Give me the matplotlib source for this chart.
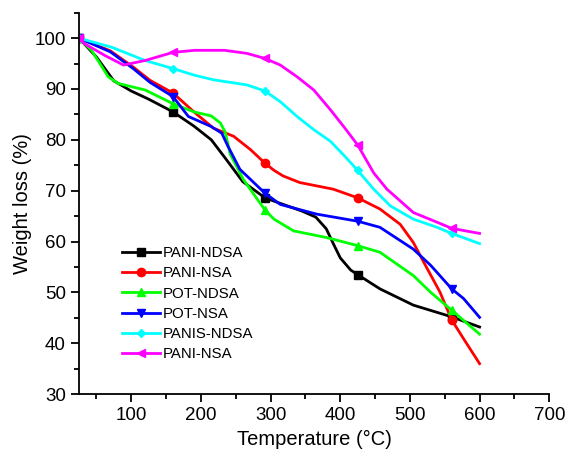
import matplotlib
matplotlib.use('Agg')
import matplotlib.pyplot as plt
from matplotlib.ticker import MultipleLocator

plt.rcParams['font.family'] = ['Liberation Sans', 'DejaVu Sans']

# temperatures (C) and weight (%)
t_pani_ndsa = [25, 50, 75, 100, 125, 160, 190, 215, 235, 260, 292, 310, 345, 365, 380, 390, 400, 415, 425, 457, 505, 560, 600]
w_pani_ndsa = [100, 96.3, 91.6, 89.6, 88.0, 85.5, 82.7, 80.0, 76.4, 71.8, 68.6, 67.7, 66.0, 64.8, 62.5, 59.6, 56.8, 54.4, 53.5, 50.7, 47.5, 45.2, 43.2]

t_pani_nsa = [25, 70, 103, 127, 160, 190, 218, 247, 271, 292, 305, 318, 342, 390, 425, 457, 486, 505, 520, 543, 560, 577, 600]
w_pani_nsa = [100, 97.5, 94.3, 91.7, 89.2, 85.5, 82.3, 80.7, 78.1, 75.4, 74.0, 72.9, 71.6, 70.3, 68.6, 66.4, 63.4, 59.8, 55.9, 50.1, 44.6, 40.9, 36.0]

t_pot_ndsa = [25, 43, 67, 81, 120, 160, 190, 215, 228, 235, 242, 261, 292, 305, 333, 380, 425, 457, 505, 530, 560, 600]
w_pot_ndsa = [100, 97.6, 92.4, 91.1, 89.8, 87.1, 85.5, 84.7, 83.3, 81.5, 77.2, 72.2, 66.2, 64.4, 62.1, 60.8, 59.2, 57.9, 53.3, 50.0, 46.5, 41.8]

t_pot_nsa = [25, 70, 103, 127, 160, 182, 215, 230, 239, 256, 292, 314, 366, 425, 457, 505, 530, 560, 577, 600]
w_pot_nsa = [100, 97.3, 94.0, 91.3, 88.5, 84.6, 82.6, 81.3, 78.7, 74.2, 69.5, 67.3, 65.4, 64.0, 62.8, 58.5, 55.3, 50.7, 48.8, 45.1]

t_panis_ndsa = [25, 72, 120, 160, 191, 218, 266, 292, 314, 338, 362, 386, 405, 425, 448, 472, 505, 539, 560, 600]
w_panis_ndsa = [100, 98.2, 95.6, 94.0, 92.7, 91.8, 90.8, 89.6, 87.5, 84.6, 82.0, 79.7, 77.0, 74.0, 70.3, 67.0, 64.4, 62.8, 61.6, 59.6]

t_pani_nsa2 = [25, 33, 62, 89, 120, 160, 191, 234, 266, 292, 314, 338, 362, 386, 405, 425, 448, 467, 486, 505, 539, 560, 600]
w_pani_nsa2 = [100, 98.9, 96.6, 94.7, 95.6, 97.2, 97.6, 97.6, 97.0, 96.0, 94.7, 92.4, 89.8, 85.9, 82.6, 79.0, 73.5, 70.3, 68.0, 65.7, 63.8, 62.6, 61.6]

mark_t = [25, 160, 292, 425, 560]

series = [
    ('PANI-NDSA', t_pani_ndsa, w_pani_ndsa, 'black', 's'),
    ('PANI-NSA', t_pani_nsa, w_pani_nsa, 'red', 'o'),
    ('POT-NDSA', t_pot_ndsa, w_pot_ndsa, '#00ff00', '^'),
    ('POT-NSA', t_pot_nsa, w_pot_nsa, 'blue', 'v'),
    ('PANIS-NDSA', t_panis_ndsa, w_panis_ndsa, 'cyan', 'D'),
    ('PANI-NSA', t_pani_nsa2, w_pani_nsa2, 'magenta', '<'),
]

fig = plt.figure(figsize=(5.68, 4.61), dpi=100)
ax = fig.add_axes([0.139, 0.145, 0.828, 0.8275])

for name, t, w, c, m in series:
    idx = [t.index(v) for v in mark_t]
    ms = 4.5 if m == 'D' else 6
    ax.plot(t, w, color=c, lw=2.0, marker=m, markevery=idx, ms=ms, label=name)

ax.set_xlim(25, 700)
ax.set_ylim(30, 105)
ax.set_xticks([100, 200, 300, 400, 500, 600, 700])
ax.set_yticks([30, 40, 50, 60, 70, 80, 90, 100])
ax.xaxis.set_minor_locator(MultipleLocator(50))
ax.yaxis.set_minor_locator(MultipleLocator(5))
ax.tick_params(which='major', direction='out', length=6, width=1.3, labelsize=13.5)
ax.tick_params(which='minor', direction='out', length=3.5, width=1.3)
ax.spines['top'].set_visible(False)
ax.spines['right'].set_visible(False)
ax.spines['left'].set_linewidth(1.3)
ax.spines['bottom'].set_linewidth(1.3)

ax.set_xlabel('Temperature (°C)', fontsize=14.5)
ax.set_ylabel('Weight loss (%)', fontsize=14.5, labelpad=2)

ax.legend(loc='upper left', bbox_to_anchor=(122 / 568, 1 - 246 / 461),
          bbox_transform=fig.transFigure, frameon=False, fontsize=10.8,
          borderpad=0, borderaxespad=0, handlelength=2.5, handletextpad=0.2,
          labelspacing=0.42)

fig.savefig('out.png', dpi=100)
